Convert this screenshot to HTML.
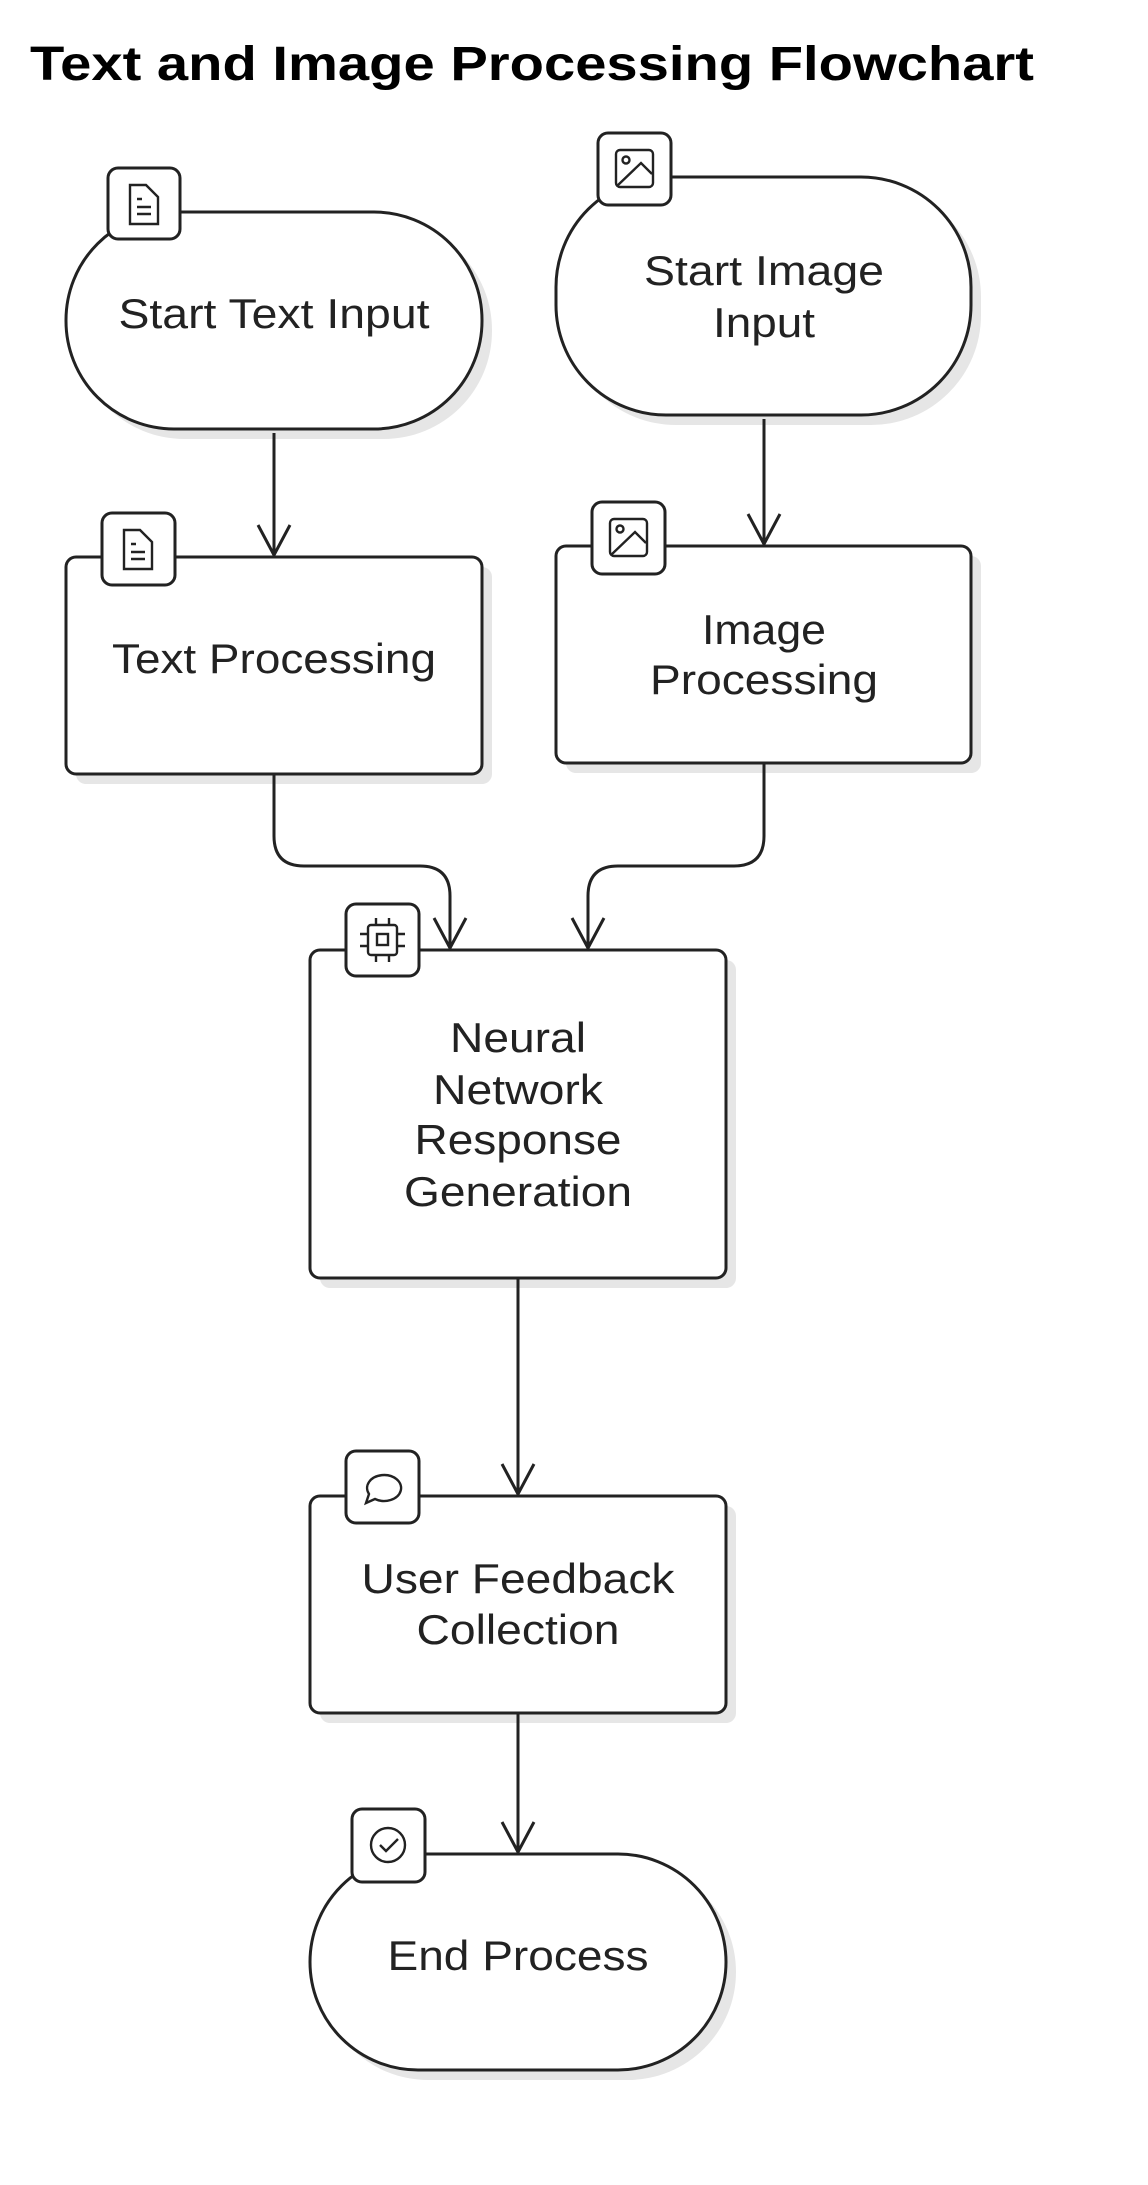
<!DOCTYPE html>
<html><head><meta charset="utf-8"><style>
html,body{margin:0;padding:0;background:#fff;}
svg{display:block}
text{font-family:"Liberation Sans",sans-serif;fill:#222;}
</style></head><body>
<svg width="1148" height="2185" viewBox="0 0 1148 2185" xmlns="http://www.w3.org/2000/svg">
<text x="30" y="80" font-size="48" font-weight="bold" fill="#000" style="fill:#000" textLength="1004" lengthAdjust="spacingAndGlyphs">Text and Image Processing Flowchart</text>
<g fill="#e6e6e6" stroke="none">
<rect x="76" y="222" width="416" height="217" rx="108"/>
<rect x="566" y="187" width="415" height="238" rx="110"/>
<rect x="76" y="567" width="416" height="217" rx="10"/>
<rect x="566" y="556" width="415" height="217" rx="10"/>
<rect x="320" y="960" width="416" height="328" rx="10"/>
<rect x="320" y="1506" width="416" height="217" rx="10"/>
<rect x="320" y="1864" width="416" height="216" rx="108"/>
</g>
<g fill="#fff" stroke="#222" stroke-width="3">
<rect x="66" y="212" width="416" height="217" rx="108"/>
<rect x="556" y="177" width="415" height="238" rx="110"/>
<rect x="66" y="557" width="416" height="217" rx="10"/>
<rect x="556" y="546" width="415" height="217" rx="10"/>
<rect x="310" y="950" width="416" height="328" rx="10"/>
<rect x="310" y="1496" width="416" height="217" rx="10"/>
<rect x="310" y="1854" width="416" height="216" rx="108"/>
</g>
<g fill="none" stroke="#222" stroke-width="3">
<path d="M274 433V555M258 525L274 555L290 525"/>
<path d="M764 419V544M748 514L764 544L780 514"/>
<path d="M274 774V836Q274 866 304 866H420Q450 866 450 896V948M434 918L450 948L466 918"/>
<path d="M764 763V836Q764 866 734 866H618Q588 866 588 896V948M572 918L588 948L604 918"/>
<path d="M518 1278V1494M502 1464L518 1494L534 1464"/>
<path d="M518 1713V1852M502 1822L518 1852L534 1822"/>
</g>
<g fill="#fff" stroke="#222" stroke-width="3">
<rect x="108" y="168" width="72" height="71" rx="10"/>
<rect x="598" y="133" width="73" height="72" rx="10"/>
<rect x="102" y="513" width="73" height="72" rx="10"/>
<rect x="592" y="502" width="73" height="72" rx="10"/>
<rect x="346" y="904" width="73" height="72" rx="10"/>
<rect x="346" y="1451" width="73" height="72" rx="10"/>
<rect x="352" y="1809" width="73" height="73" rx="10"/>
</g>
<g fill="none" stroke="#222" stroke-width="2.4">
<path d="M130 185h16l12 12v27h-28z M137 199h5 M137 207h14 M137 214h14"/>
<path d="M124 530h16l12 12v27h-28z M131 544h5 M131 552h14 M131 559h14"/>
<rect x="616" y="150" width="37" height="37" rx="4"/><circle cx="626" cy="160" r="3.5"/><path d="M617 186L641 163L652 174"/>
<rect x="610" y="519" width="37" height="37" rx="4"/><circle cx="620" cy="529" r="3.5"/><path d="M611 555L635 532L646 543"/>
<rect x="368" y="925" width="29" height="30" rx="3"/><rect x="377" y="934" width="11" height="11"/><path d="M376 918v7M389 918v7M376 955v7M389 955v7M360 934h8M360 946h8M397 934h8M397 946h8"/>
<path d="M366 1503l3-9a17 13 0 1 1 6 5z"/>
<circle cx="388" cy="1845" r="17"/><path d="M380 1845l6 6l12-12"/>
</g>
<g font-size="42" text-anchor="middle">
<text x="274" y="328" textLength="311" lengthAdjust="spacingAndGlyphs">Start Text Input</text>
<text x="764" y="285" textLength="240" lengthAdjust="spacingAndGlyphs">Start Image</text><text x="764" y="337" textLength="102" lengthAdjust="spacingAndGlyphs">Input</text>
<text x="274" y="673" textLength="324" lengthAdjust="spacingAndGlyphs">Text Processing</text>
<text x="764" y="644" textLength="124" lengthAdjust="spacingAndGlyphs">Image</text><text x="764" y="694" textLength="228" lengthAdjust="spacingAndGlyphs">Processing</text>
<text x="518" y="1052" textLength="136" lengthAdjust="spacingAndGlyphs">Neural</text><text x="518" y="1104" textLength="170" lengthAdjust="spacingAndGlyphs">Network</text><text x="518" y="1154" textLength="207" lengthAdjust="spacingAndGlyphs">Response</text><text x="518" y="1206" textLength="228" lengthAdjust="spacingAndGlyphs">Generation</text>
<text x="518" y="1593" textLength="313" lengthAdjust="spacingAndGlyphs">User Feedback</text><text x="518" y="1644" textLength="203" lengthAdjust="spacingAndGlyphs">Collection</text>
<text x="518" y="1970" textLength="261" lengthAdjust="spacingAndGlyphs">End Process</text>
</g>
</svg>
</body></html>
